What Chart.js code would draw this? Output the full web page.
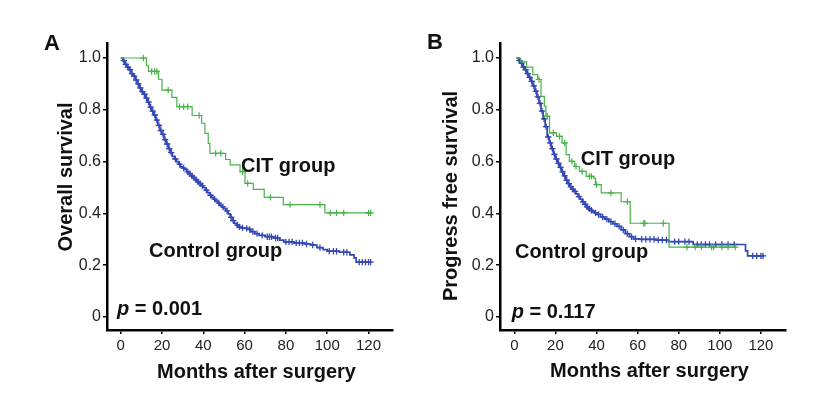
<!DOCTYPE html>
<html><head><meta charset="utf-8">
<script src="https://cdn.jsdelivr.net/npm/chart.js@4"></script>
<style>
html,body{margin:0;padding:0;background:#fff;}
#wrap{position:relative;width:837px;height:407px;background:#fff;}
canvas{position:absolute;top:0;}
#cA{left:0;} #cB{left:418px;}
</style></head><body>
<div id="wrap"><canvas id="cA" width="418" height="407"></canvas><canvas id="cB" width="419" height="407"></canvas></div>
<script>
// ---------- tick labels ----------
const monthTicks = [0, 20, 40, 60, 80, 100, 120];
const survTicks = [0, 0.2, 0.4, 0.6, 0.8, 1.0];
const survTickLabels = ['0', '0.2', '0.4', '0.6', '0.8', '1.0'];

// ---------- Panel A: overall survival ----------
const osCtrlT = [0,1,2,3,4,5,6,7,8,9,10,11,12,13,14,15,16,17,18,19,20,21,22,23,24,25,26,27,28,29,30,31,32,33,34,35,36,37,38,39,40,41,42,43,44,45,46,47,48,49,50,51,52,53,54,55,56,57,58,60,62,63,65,67,70,74,77,79,84,89,92,95,98,100,106,111,113,114,121];
const osCtrlS = [1.0,0.99,0.975,0.965,0.955,0.94,0.93,0.915,0.90,0.885,0.87,0.86,0.845,0.83,0.81,0.795,0.78,0.76,0.74,0.72,0.705,0.685,0.668,0.65,0.635,0.62,0.61,0.60,0.59,0.58,0.575,0.57,0.56,0.553,0.545,0.538,0.53,0.522,0.515,0.507,0.50,0.49,0.48,0.47,0.462,0.455,0.447,0.44,0.432,0.425,0.418,0.41,0.398,0.385,0.372,0.362,0.355,0.348,0.344,0.342,0.338,0.33,0.322,0.315,0.31,0.305,0.297,0.29,0.286,0.282,0.278,0.268,0.26,0.254,0.25,0.24,0.228,0.212,0.212];
const osCtrlCens = [1.5,2.5,3.5,4.5,5.5,6.5,7.5,8.5,9.5,10.5,11.5,12.5,13.5,14.5,15.5,16.5,17.5,18.5,19.5,20.5,21.5,22.5,23.5,24.5,26.5,28.5,30.5,32.5,33.5,34.5,35.5,36.5,37.5,38.5,39.5,41.5,43.5,45.5,47.5,49.5,51.5,53.5,54.5,56.5,57.5,59,61,62.5,64,66,68.5,71,72,73,75,76,80,81.5,83,85,86.5,88,90,93,96.5,101,103,104.5,108,109.5,115.5,117,118.5,120,121];

const osCitT = [0,12.5,13.5,18.3,20.0,24.8,27.2,34.6,39.2,40.8,42.4,43.2,50.8,53.0,57.8,60.2,64.2,69.5,78.7,98.9,121];
const osCitS = [1.0,0.97,0.948,0.918,0.876,0.848,0.812,0.778,0.748,0.709,0.670,0.632,0.608,0.587,0.561,0.516,0.493,0.462,0.434,0.402,0.402];
const osCitCens = [11,15,16.5,17.5,23,28.5,30.5,32.5,38,46,48.5,59,61.5,72.5,82,96.5,101.5,104.5,108,120,121];

// ---------- Panel B: progression free survival ----------
const pfsCtrlT = [1,2,3,4,5,6,7,8,9,10,11,12,13,14,15,16,17,18,19,20,21,22,23,24,25,26,27,28,29,30,31,32,33,34,35,36,37,38,39,40,42,44,46,48,50,52,54,56,58,61,69,75,87,112.5,113.5,121];
const pfsCtrlS = [1.0,0.99,0.98,0.965,0.955,0.94,0.925,0.91,0.892,0.872,0.85,0.825,0.795,0.765,0.735,0.695,0.672,0.65,0.628,0.61,0.593,0.578,0.56,0.545,0.528,0.515,0.503,0.493,0.485,0.475,0.465,0.455,0.445,0.435,0.425,0.418,0.412,0.407,0.402,0.396,0.386,0.378,0.368,0.36,0.35,0.336,0.322,0.31,0.302,0.30,0.297,0.291,0.28,0.255,0.236,0.236];
const pfsCtrlCens = [2.5,3.5,4.5,5.5,6.5,7.5,8.5,9.5,10.5,11.5,12.5,13.5,14.5,15.5,16.5,17.5,18.5,19.5,20.5,21.5,22.5,23.5,24.5,25.5,26.5,27.5,28.5,29.5,31.5,33.5,34.5,35.5,36.5,37.5,39.5,41,43,45,47,49,51,53,55,57,59,62,64,66,68,70,72,74,78,80,83,85,89,91,93,95,98,101,104,107,116,118,120,121];

const pfsCitT = [1,3,6,9,11.4,13,14.6,15.4,17.1,20.5,23.2,25.2,26.8,29.3,31.7,35,38.5,39.5,42.3,52,56.4,75.3,107.5];
const pfsCitS = [1.0,0.985,0.965,0.936,0.917,0.852,0.814,0.775,0.711,0.697,0.672,0.627,0.601,0.581,0.562,0.543,0.536,0.511,0.479,0.445,0.362,0.27,0.27];
const pfsCitCens = [12,16,19,22,24.5,28,30,33,36.5,37.5,40,47,55,63,63.5,72.5,84,88,91,96,97,101,104,107.5];

// ---------- helpers ----------
const FAM = "'Liberation Sans', Arial, Helvetica, sans-serif";
const GREEN = 'rgb(72,178,72)';
const BLUE = 'rgb(52,72,180)';

function kmAt(T, S, t) {
  let v = S[0];
  for (let i = 0; i < T.length; i++) { if (T[i] <= t) v = S[i]; }
  return v;
}
function stepData(T, S) { return T.map((t, i) => ({ x: t, y: S[i] })); }
function censData(T, S, C) { return C.map(t => ({ x: t, y: kmAt(T, S, t) })); }

const textPlugin = {
  id: 'kmText',
  afterDraw(chart, args, o) {
    const ctx = chart.ctx;
    const xs = chart.scales.x, ys = chart.scales.y;
    ctx.save();
    ctx.fillStyle = '#111';
    ctx.textBaseline = 'alphabetic';
    (o.items || []).forEach(it => {
      let x, y;
      if (it.data) { x = xs.getPixelForValue(it.data[0]); y = ys.getPixelForValue(it.data[1]); }
      else { x = it.px[0]; y = it.px[1]; }
      ctx.save();
      ctx.translate(x, y);
      if (it.rotate) ctx.rotate(it.rotate);
      ctx.textAlign = it.align || 'left';
      if (it.segments) {
        let cx = 0;
        ctx.textAlign = 'left';
        it.segments.forEach(sg => {
          ctx.font = sg.font;
          ctx.fillText(sg.text, cx, 0);
          cx += ctx.measureText(sg.text).width;
        });
      } else {
        ctx.font = it.font;
        ctx.fillText(it.text, 0, 0);
      }
      ctx.restore();
    });
    ctx.restore();
  }
};

function makePanel(canvasId, cfg) {
  const axisCommon = {
    type: 'linear',
    grid: { display: true, drawOnChartArea: false, drawTicks: true, tickLength: 4, color: '#000', lineWidth: 1.5 },
    border: { display: true, color: '#000', width: 2.5 }
  };
  return new Chart(document.getElementById(canvasId), {
    type: 'line',
    data: {
      datasets: [
        { data: stepData(cfg.citT, cfg.citS), borderColor: GREEN, borderWidth: 1.2, stepped: 'before', pointRadius: 0, fill: false },
        { data: censData(cfg.citT, cfg.citS, cfg.citC), borderColor: GREEN, borderWidth: 1.2, showLine: false, pointStyle: 'cross', pointRadius: 3.2 },
        { data: stepData(cfg.ctrlT, cfg.ctrlS), borderColor: BLUE, borderWidth: 1.7, stepped: 'before', pointRadius: 0, fill: false },
        { data: censData(cfg.ctrlT, cfg.ctrlS, cfg.ctrlC), borderColor: BLUE, borderWidth: 1.3, showLine: false, pointStyle: 'cross', pointRadius: 3.2 }
      ]
    },
    options: {
      responsive: false, animation: false, devicePixelRatio: 1,
      layout: { padding: { left: 0, top: 43, right: cfg.padRight, bottom: 0 } },
      plugins: { legend: { display: false }, tooltip: { enabled: false }, kmText: { items: cfg.texts } },
      scales: {
        x: Object.assign({}, axisCommon, {
          min: cfg.xMin, max: cfg.xMax,
          afterBuildTicks: s => { s.ticks = monthTicks.map(v => ({ value: v })); },
          afterFit: s => { s.height = 77; },
          ticks: { font: { size: 15, family: FAM }, color: '#222', padding: 3, maxRotation: 0, autoSkip: false }
        }),
        y: Object.assign({}, axisCommon, {
          min: -0.0502, max: 1.0579,
          afterBuildTicks: s => { s.ticks = survTicks.map(v => ({ value: v })); },
          afterFit: s => { s.width = cfg.yWidth; },
          ticks: { font: { size: 16, family: FAM }, color: '#222', padding: 2, autoSkip: false,
                   callback: v => { const i = survTicks.findIndex(t => Math.abs(t - v) < 1e-6); return i >= 0 ? survTickLabels[i] : ''; } }
        })
      }
    },
    plugins: [textPlugin]
  });
}

const B20 = 'bold 20px ' + FAM;
const BI20 = 'italic bold 20px ' + FAM;

makePanel('cA', {
  ctrlT: osCtrlT, ctrlS: osCtrlS, ctrlC: osCtrlCens,
  citT: osCitT, citS: osCitS, citC: osCitCens,
  xMin: -6.63, xMax: 131.86, yWidth: 107, padRight: 25,
  texts: [
    { text: 'A', px: [44, 49.5], font: 'bold 22px ' + FAM },
    { text: 'Overall survival', px: [71.5, 177], rotate: -Math.PI / 2, align: 'center', font: B20 },
    { text: 'Months after surgery', px: [157, 377.5], font: B20 },
    { text: 'CIT group', data: [58.3, 0.56], font: B20 },
    { text: 'Control group', data: [13.7, 0.233], font: B20 },
    { segments: [{ text: 'p', font: BI20 }, { text: ' = 0.001', font: B20 }], data: [-1.8, 0.008] }
  ]
});

makePanel('cB', {
  ctrlT: pfsCtrlT, ctrlS: pfsCtrlS, ctrlC: pfsCtrlCens,
  citT: pfsCitT, citS: pfsCitS, citC: pfsCitCens,
  xMin: -6.97, xMax: 132.2, yWidth: 82, padRight: 51,
  texts: [
    { text: 'B', px: [9, 48.5], font: 'bold 22px ' + FAM },
    { text: 'Progress free survival', px: [39, 196], rotate: -Math.PI / 2, align: 'center', font: B20 },
    { text: 'Months after surgery', px: [132, 377], font: B20 },
    { text: 'CIT group', data: [32.3, 0.588], font: B20 },
    { text: 'Control group', data: [0.3, 0.229], font: B20 },
    { segments: [{ text: 'p', font: BI20 }, { text: ' = 0.117', font: B20 }], data: [-1.3, -0.004] }
  ]
});
</script>
</body></html>
